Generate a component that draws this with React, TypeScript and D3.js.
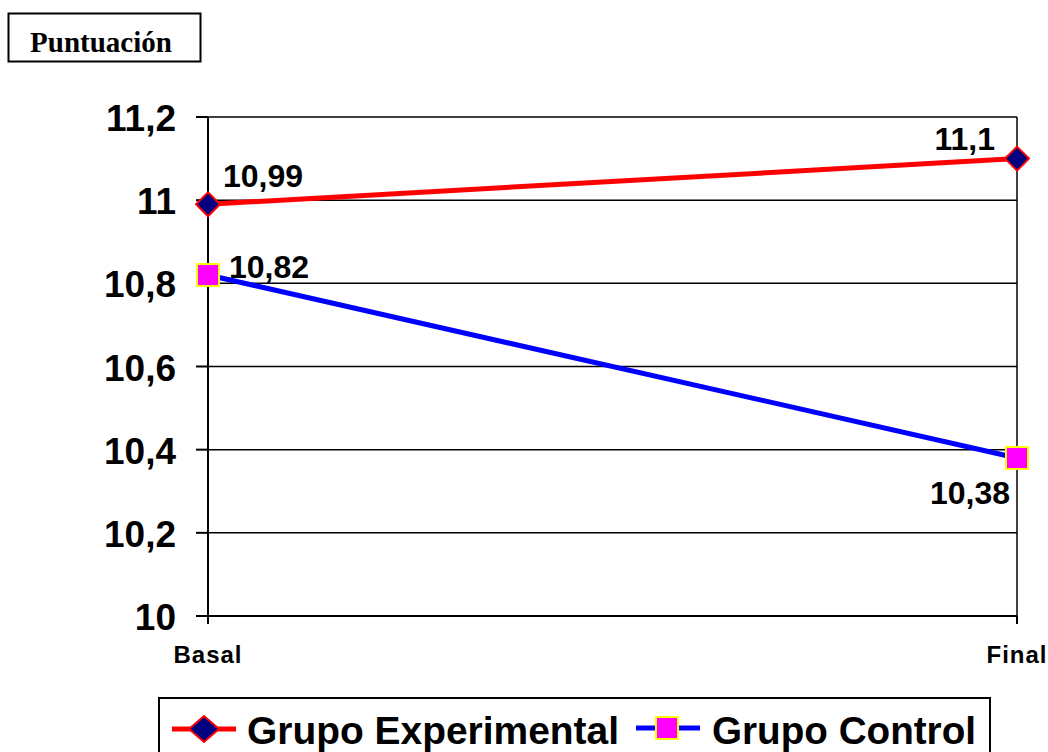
import * as d3 from "d3";

const categories = ["Basal", "Final"];
const experimental = [10.99, 11.1];
const control = [10.82, 10.38];
const yTicks = [10, 10.2, 10.4, 10.6, 10.8, 11, 11.2];
const seriesNames = ["Grupo Experimental", "Grupo Control"];

const W = 1048;
const H = 752;
const left = 208;
const right = 1017;
const top = 117;
const bottom = 616;

const fmt = (v: number) => String(v).replace(".", ",");

export default function App() {
  const x = d3.scalePoint<string>().domain(categories).range([left, right]).padding(0);
  const y = d3.scaleLinear().domain([10, 11.2]).range([bottom, top]);
  const line = d3
    .line<number>()
    .x((_, i) => x(categories[i]) as number)
    .y((d) => y(d));

  const font = "'Liberation Sans', Arial, sans-serif";

  const diamond = (cx: number, cy: number, rx: number, ry: number) =>
    `M${cx},${cy - ry}L${cx + rx},${cy}L${cx},${cy + ry}L${cx - rx},${cy}Z`;

  return (
    <svg
      width={W}
      height={H}
      style={{ position: "absolute", left: 0, top: 0, background: "#fff" }}
      fontFamily={font}
    >
      {/* title box */}
      <rect x={8.5} y={13.5} width={192} height={48} fill="#fff" stroke="#000" strokeWidth={2} />
      <text
        x={101}
        y={52}
        textAnchor="middle"
        fontFamily="'Liberation Serif', 'Times New Roman', serif"
        fontWeight="bold"
        fontSize={29}
      >
        Puntuación
      </text>

      {/* gridlines */}
      {yTicks.slice(1).map((t) => (
        <line key={t} x1={left} x2={right} y1={y(t)} y2={y(t)} stroke="#000" strokeWidth={1.5} />
      ))}
      {/* right border */}
      <line x1={right} x2={right} y1={top} y2={bottom} stroke="#000" strokeWidth={1.5} />
      {/* axes */}
      <line x1={left} x2={left} y1={top} y2={bottom + 8} stroke="#000" strokeWidth={2} />
      <line x1={left - 12} x2={right} y1={bottom} y2={bottom} stroke="#000" strokeWidth={2} />
      <line x1={right} x2={right} y1={bottom} y2={bottom + 8} stroke="#000" strokeWidth={2} />
      {yTicks.map((t) => (
        <g key={t}>
          <line x1={left - 12} x2={left} y1={y(t)} y2={y(t)} stroke="#000" strokeWidth={2} />
          <text
            x={176}
            y={y(t) + 14}
            textAnchor="end"
            fontWeight="bold"
            fontSize={37}
          >
            {fmt(t)}
          </text>
        </g>
      ))}
      {categories.map((c) => (
        <text
          key={c}
          x={x(c)}
          y={663}
          textAnchor="middle"
          fontWeight="bold"
          fontSize={24}
          letterSpacing={1}
        >
          {c}
        </text>
      ))}

      {/* series */}
      <path d={line(experimental) || ""} fill="none" stroke="#ff0000" strokeWidth={5} />
      <path d={line(control) || ""} fill="none" stroke="#0000ff" strokeWidth={5} />
      {experimental.map((v, i) => (
        <path
          key={i}
          d={diamond(x(categories[i]) as number, y(v), 12, 12)}
          fill="#000080"
          stroke="#ff0000"
          strokeWidth={2}
        />
      ))}
      {control.map((v, i) => (
        <rect
          key={i}
          x={(x(categories[i]) as number) - 11}
          y={y(v) - 11}
          width={22}
          height={22}
          fill="#ff00ff"
          stroke="#ffff00"
          strokeWidth={2}
        />
      ))}

      {/* data labels */}
      <text x={(x(categories[0]) as number) + 15} y={y(experimental[0]) - 17} fontWeight="bold" fontSize={32}>
        {fmt(experimental[0])}
      </text>
      <text x={(x(categories[1]) as number) - 22} y={y(experimental[1]) - 9} textAnchor="end" fontWeight="bold" fontSize={32}>
        {fmt(experimental[1])}
      </text>
      <text x={(x(categories[0]) as number) + 21} y={y(control[0]) + 3} fontWeight="bold" fontSize={32}>
        {fmt(control[0])}
      </text>
      <text x={(x(categories[1]) as number) - 7} y={y(control[1]) + 46} textAnchor="end" fontWeight="bold" fontSize={32}>
        {fmt(control[1])}
      </text>

      {/* legend */}
      <rect x={159} y={698} width={831} height={70} fill="#fff" stroke="#000" strokeWidth={2} />
      <line x1={172} x2={236} y1={729} y2={729} stroke="#ff0000" strokeWidth={5} />
      <path d={diamond(204, 729, 15, 13)} fill="#000080" stroke="#ff0000" strokeWidth={2} />
      <text x={247} y={744} fontWeight="bold" fontSize={38} textLength={372} lengthAdjust="spacingAndGlyphs">
        {seriesNames[0]}
      </text>
      <line x1={636} x2={700} y1={728} y2={728} stroke="#0000ff" strokeWidth={5} />
      <rect x={656} y={717} width={22} height={22} fill="#ff00ff" stroke="#ffff00" strokeWidth={2} />
      <text x={712} y={744} fontWeight="bold" fontSize={38} textLength={264} lengthAdjust="spacingAndGlyphs">
        {seriesNames[1]}
      </text>
    </svg>
  );
}
